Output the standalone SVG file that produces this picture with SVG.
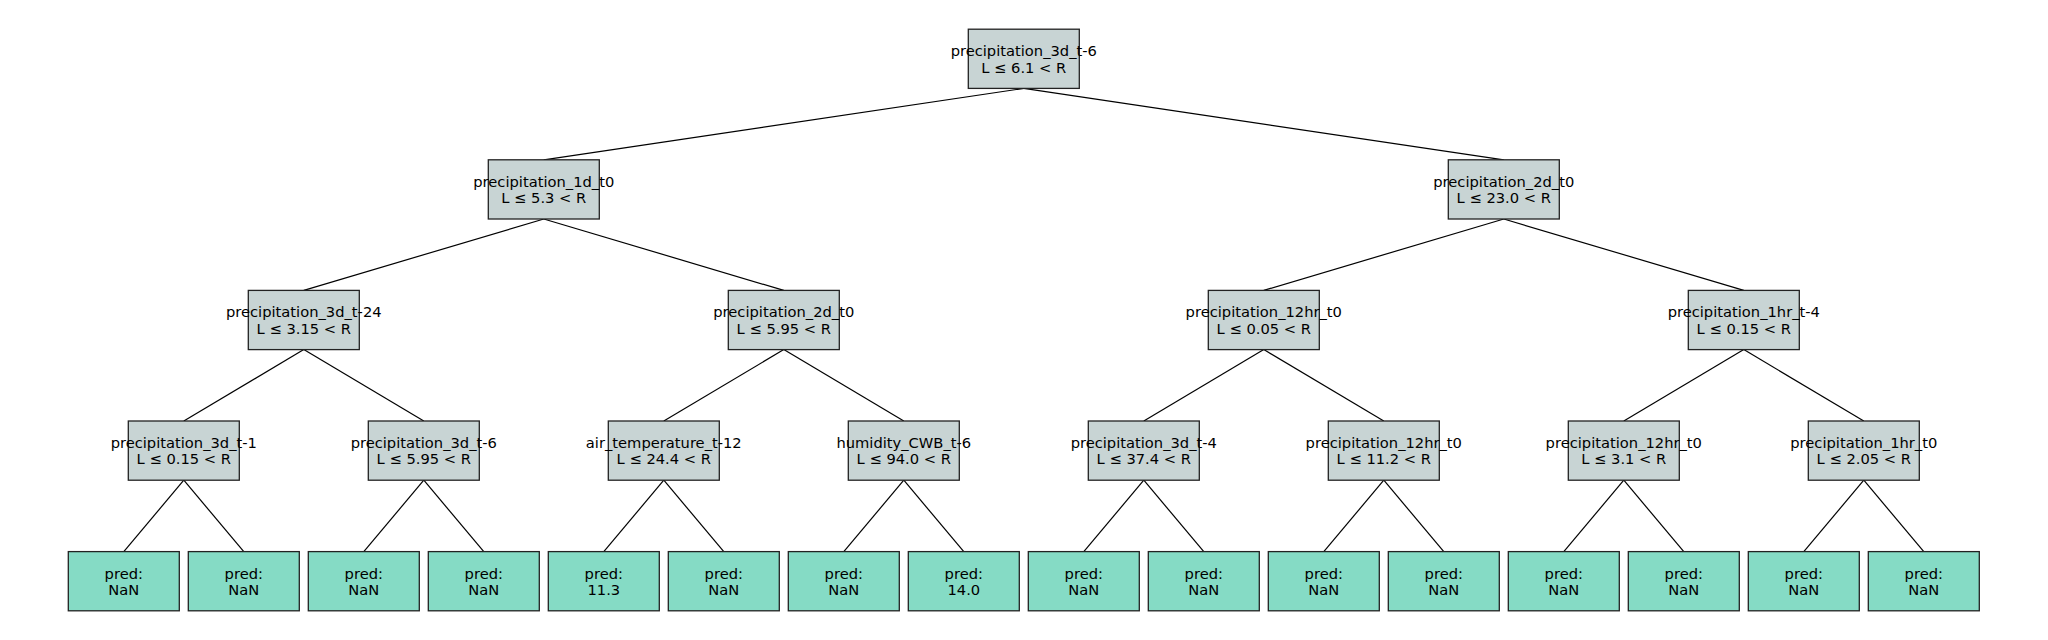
<svg xmlns="http://www.w3.org/2000/svg" width="2048" height="640" viewBox="0 0 2048 640">
<style>
.n rect{fill:#c8d4d4;stroke:#222;stroke-width:1.3}
.l rect{fill:#85dbc5;stroke:#222;stroke-width:1.3}
text{font-family:"DejaVu Sans",sans-serif;font-size:14.7px;fill:#000;text-anchor:middle}
#edges line{stroke:#000;stroke-width:1.2}
</style>
<rect width="2048" height="640" fill="#fff"/>
<g id="edges">
<line x1="1023.8" y1="88.4" x2="543.8" y2="159.8"/>
<line x1="1023.8" y1="88.4" x2="1503.8" y2="159.8"/>
<line x1="543.8" y1="219" x2="303.8" y2="290.4"/>
<line x1="543.8" y1="219" x2="783.8" y2="290.4"/>
<line x1="1503.8" y1="219" x2="1263.8" y2="290.4"/>
<line x1="1503.8" y1="219" x2="1743.8" y2="290.4"/>
<line x1="303.8" y1="349.6" x2="183.8" y2="421"/>
<line x1="303.8" y1="349.6" x2="423.8" y2="421"/>
<line x1="783.8" y1="349.6" x2="663.8" y2="421"/>
<line x1="783.8" y1="349.6" x2="903.8" y2="421"/>
<line x1="1263.8" y1="349.6" x2="1143.8" y2="421"/>
<line x1="1263.8" y1="349.6" x2="1383.8" y2="421"/>
<line x1="1743.8" y1="349.6" x2="1623.8" y2="421"/>
<line x1="1743.8" y1="349.6" x2="1863.8" y2="421"/>
<line x1="183.8" y1="480.2" x2="123.8" y2="551.6"/>
<line x1="183.8" y1="480.2" x2="243.8" y2="551.6"/>
<line x1="423.8" y1="480.2" x2="363.8" y2="551.6"/>
<line x1="423.8" y1="480.2" x2="483.8" y2="551.6"/>
<line x1="663.8" y1="480.2" x2="603.8" y2="551.6"/>
<line x1="663.8" y1="480.2" x2="723.8" y2="551.6"/>
<line x1="903.8" y1="480.2" x2="843.8" y2="551.6"/>
<line x1="903.8" y1="480.2" x2="963.8" y2="551.6"/>
<line x1="1143.8" y1="480.2" x2="1083.8" y2="551.6"/>
<line x1="1143.8" y1="480.2" x2="1203.8" y2="551.6"/>
<line x1="1383.8" y1="480.2" x2="1323.8" y2="551.6"/>
<line x1="1383.8" y1="480.2" x2="1443.8" y2="551.6"/>
<line x1="1623.8" y1="480.2" x2="1563.8" y2="551.6"/>
<line x1="1623.8" y1="480.2" x2="1683.8" y2="551.6"/>
<line x1="1863.8" y1="480.2" x2="1803.8" y2="551.6"/>
<line x1="1863.8" y1="480.2" x2="1923.8" y2="551.6"/>
</g>
<g id="n0" class="n"><rect x="968.3" y="29.2" width="111" height="59.2"/><text x="1023.8" y="56.2">precipitation_3d_t-6</text><text x="1023.8" y="72.5">L ≤ 6.1 &lt; R</text></g>
<g id="n1" class="n"><rect x="488.3" y="159.8" width="111" height="59.2"/><text x="543.8" y="186.8">precipitation_1d_t0</text><text x="543.8" y="203.1">L ≤ 5.3 &lt; R</text></g>
<g id="n2" class="n"><rect x="1448.3" y="159.8" width="111" height="59.2"/><text x="1503.8" y="186.8">precipitation_2d_t0</text><text x="1503.8" y="203.1">L ≤ 23.0 &lt; R</text></g>
<g id="n3" class="n"><rect x="248.3" y="290.4" width="111" height="59.2"/><text x="303.8" y="317.4">precipitation_3d_t-24</text><text x="303.8" y="333.7">L ≤ 3.15 &lt; R</text></g>
<g id="n4" class="n"><rect x="728.3" y="290.4" width="111" height="59.2"/><text x="783.8" y="317.4">precipitation_2d_t0</text><text x="783.8" y="333.7">L ≤ 5.95 &lt; R</text></g>
<g id="n5" class="n"><rect x="1208.3" y="290.4" width="111" height="59.2"/><text x="1263.8" y="317.4">precipitation_12hr_t0</text><text x="1263.8" y="333.7">L ≤ 0.05 &lt; R</text></g>
<g id="n6" class="n"><rect x="1688.3" y="290.4" width="111" height="59.2"/><text x="1743.8" y="317.4">precipitation_1hr_t-4</text><text x="1743.8" y="333.7">L ≤ 0.15 &lt; R</text></g>
<g id="n7" class="n"><rect x="128.3" y="421" width="111" height="59.2"/><text x="183.8" y="448">precipitation_3d_t-1</text><text x="183.8" y="464.3">L ≤ 0.15 &lt; R</text></g>
<g id="n8" class="n"><rect x="368.3" y="421" width="111" height="59.2"/><text x="423.8" y="448">precipitation_3d_t-6</text><text x="423.8" y="464.3">L ≤ 5.95 &lt; R</text></g>
<g id="n9" class="n"><rect x="608.3" y="421" width="111" height="59.2"/><text x="663.8" y="448">air_temperature_t-12</text><text x="663.8" y="464.3">L ≤ 24.4 &lt; R</text></g>
<g id="n10" class="n"><rect x="848.3" y="421" width="111" height="59.2"/><text x="903.8" y="448">humidity_CWB_t-6</text><text x="903.8" y="464.3">L ≤ 94.0 &lt; R</text></g>
<g id="n11" class="n"><rect x="1088.3" y="421" width="111" height="59.2"/><text x="1143.8" y="448">precipitation_3d_t-4</text><text x="1143.8" y="464.3">L ≤ 37.4 &lt; R</text></g>
<g id="n12" class="n"><rect x="1328.3" y="421" width="111" height="59.2"/><text x="1383.8" y="448">precipitation_12hr_t0</text><text x="1383.8" y="464.3">L ≤ 11.2 &lt; R</text></g>
<g id="n13" class="n"><rect x="1568.3" y="421" width="111" height="59.2"/><text x="1623.8" y="448">precipitation_12hr_t0</text><text x="1623.8" y="464.3">L ≤ 3.1 &lt; R</text></g>
<g id="n14" class="n"><rect x="1808.3" y="421" width="111" height="59.2"/><text x="1863.8" y="448">precipitation_1hr_t0</text><text x="1863.8" y="464.3">L ≤ 2.05 &lt; R</text></g>
<g id="leaf0" class="l"><rect x="68.3" y="551.6" width="111" height="59.2"/><text x="123.8" y="578.6">pred:</text><text x="123.8" y="594.9">NaN</text></g>
<g id="leaf1" class="l"><rect x="188.3" y="551.6" width="111" height="59.2"/><text x="243.8" y="578.6">pred:</text><text x="243.8" y="594.9">NaN</text></g>
<g id="leaf2" class="l"><rect x="308.3" y="551.6" width="111" height="59.2"/><text x="363.8" y="578.6">pred:</text><text x="363.8" y="594.9">NaN</text></g>
<g id="leaf3" class="l"><rect x="428.3" y="551.6" width="111" height="59.2"/><text x="483.8" y="578.6">pred:</text><text x="483.8" y="594.9">NaN</text></g>
<g id="leaf4" class="l"><rect x="548.3" y="551.6" width="111" height="59.2"/><text x="603.8" y="578.6">pred:</text><text x="603.8" y="594.9">11.3</text></g>
<g id="leaf5" class="l"><rect x="668.3" y="551.6" width="111" height="59.2"/><text x="723.8" y="578.6">pred:</text><text x="723.8" y="594.9">NaN</text></g>
<g id="leaf6" class="l"><rect x="788.3" y="551.6" width="111" height="59.2"/><text x="843.8" y="578.6">pred:</text><text x="843.8" y="594.9">NaN</text></g>
<g id="leaf7" class="l"><rect x="908.3" y="551.6" width="111" height="59.2"/><text x="963.8" y="578.6">pred:</text><text x="963.8" y="594.9">14.0</text></g>
<g id="leaf8" class="l"><rect x="1028.3" y="551.6" width="111" height="59.2"/><text x="1083.8" y="578.6">pred:</text><text x="1083.8" y="594.9">NaN</text></g>
<g id="leaf9" class="l"><rect x="1148.3" y="551.6" width="111" height="59.2"/><text x="1203.8" y="578.6">pred:</text><text x="1203.8" y="594.9">NaN</text></g>
<g id="leaf10" class="l"><rect x="1268.3" y="551.6" width="111" height="59.2"/><text x="1323.8" y="578.6">pred:</text><text x="1323.8" y="594.9">NaN</text></g>
<g id="leaf11" class="l"><rect x="1388.3" y="551.6" width="111" height="59.2"/><text x="1443.8" y="578.6">pred:</text><text x="1443.8" y="594.9">NaN</text></g>
<g id="leaf12" class="l"><rect x="1508.3" y="551.6" width="111" height="59.2"/><text x="1563.8" y="578.6">pred:</text><text x="1563.8" y="594.9">NaN</text></g>
<g id="leaf13" class="l"><rect x="1628.3" y="551.6" width="111" height="59.2"/><text x="1683.8" y="578.6">pred:</text><text x="1683.8" y="594.9">NaN</text></g>
<g id="leaf14" class="l"><rect x="1748.3" y="551.6" width="111" height="59.2"/><text x="1803.8" y="578.6">pred:</text><text x="1803.8" y="594.9">NaN</text></g>
<g id="leaf15" class="l"><rect x="1868.3" y="551.6" width="111" height="59.2"/><text x="1923.8" y="578.6">pred:</text><text x="1923.8" y="594.9">NaN</text></g>
</svg>
